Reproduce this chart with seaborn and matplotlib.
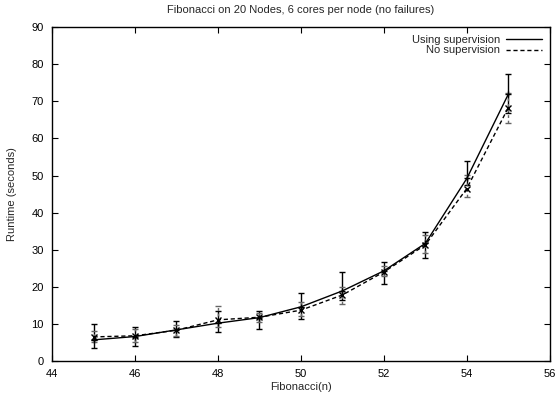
import matplotlib
matplotlib.use("Agg")
import matplotlib.pyplot as plt
import seaborn as sns
import numpy as np
import pandas as pd

# Problem sizes
fib_n = [45, 46, 47, 48, 49, 50, 51, 52, 53, 54, 55]

# Runtime with supervision (mean, lower, upper)
sup_mean = [5.7, 6.6, 8.4, 10.2, 11.7, 14.6, 18.9, 24.3, 31.7, 49.2, 71.9]
sup_low = [3.6, 4.1, 6.5, 7.9, 8.5, 11.3, 16.4, 20.7, 27.8, 47.4, 66.8]
sup_high = [9.9, 9.2, 10.8, 13.5, 13.6, 18.3, 23.9, 26.6, 34.8, 53.9, 77.4]

# Runtime without supervision (mean, lower, upper)
nosup_mean = [6.5, 6.8, 8.3, 11.1, 11.8, 13.7, 17.8, 24.0, 31.3, 46.5, 68.3]
nosup_low = [5.0, 5.0, 6.7, 9.3, 10.5, 12.0, 15.5, 23.0, 29.0, 44.3, 64.1]
nosup_high = [8.0, 8.5, 9.8, 14.7, 13.0, 16.0, 20.0, 25.5, 34.0, 50.1, 72.2]

FS = 8

sns.set_theme(style="ticks")
plt.rcParams["font.family"] = ["Liberation Sans", "DejaVu Sans"]
plt.rcParams["font.size"] = FS

fig = plt.figure(figsize=(5.57, 3.99), dpi=100)
ax = fig.add_axes([0.0934, 0.0952, 0.8936, 0.8368])

df = pd.concat([
    pd.DataFrame({"n": fib_n, "runtime": sup_mean, "mode": "Using supervision"}),
    pd.DataFrame({"n": fib_n, "runtime": nosup_mean, "mode": "No supervision"}),
])

# Error bars first, so the lines sit on top
ax.errorbar(fib_n, sup_mean,
            yerr=[np.subtract(sup_mean, sup_low), np.subtract(sup_high, sup_mean)],
            fmt="none", ecolor="black", elinewidth=1.0, capsize=2.5, capthick=1.0)
eb = ax.errorbar(fib_n, nosup_mean,
                 yerr=[np.subtract(nosup_mean, nosup_low), np.subtract(nosup_high, nosup_mean)],
                 fmt="none", ecolor="#666666", elinewidth=1.0, capsize=2.5, capthick=1.0)
for coll in eb[2]:
    coll.set_linestyle((0, (2, 2)))

sns.lineplot(data=df, x="n", y="runtime", hue="mode", style="mode",
             palette={"Using supervision": "black", "No supervision": "black"},
             dashes={"Using supervision": "", "No supervision": (3, 2)},
             markers={"Using supervision": "+", "No supervision": "x"},
             markersize=5, markeredgewidth=1.0, markeredgecolor="black",
             linewidth=1.0, ax=ax, legend=False)

# Legend with text on the left and the line sample on the right
handles = [plt.Line2D([], [], color="black", lw=1.0),
           plt.Line2D([], [], color="black", lw=1.0, ls=(0, (3, 2)))]
ax.legend(handles, ["Using supervision", "No supervision"], loc="upper right",
          frameon=False, markerfirst=False, handlelength=3.2, handletextpad=0.6,
          labelspacing=0.05, borderaxespad=0.3, fontsize=FS)

ax.set_xlim(44, 56)
ax.set_ylim(0, 90)
ax.set_xticks(np.arange(44, 57, 2))
ax.set_yticks(np.arange(0, 91, 10))
ax.tick_params(direction="in", length=4, width=0.8, top=True, right=True,
               labelsize=FS, pad=6, colors="black")
for s in ax.spines.values():
    s.set_linewidth(1.0)
    s.set_color("black")

ax.set_xlabel("Fibonacci(n)", fontsize=FS, labelpad=2)
ax.set_ylabel("Runtime (seconds)", fontsize=FS, labelpad=10)
ax.set_title("Fibonacci on 20 Nodes, 6 cores per node (no failures)", fontsize=FS, pad=10)

fig.savefig("out.png", dpi=100)
